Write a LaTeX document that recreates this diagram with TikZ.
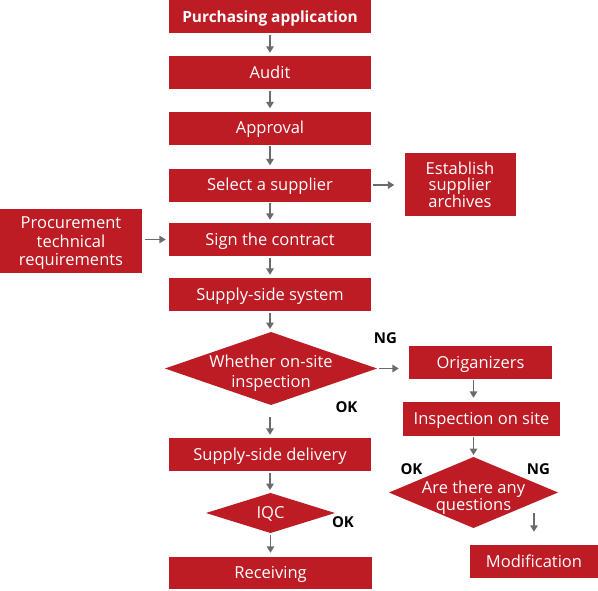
\documentclass[tikz,border=0pt]{standalone}
\usepackage{fontspec}
\setmainfont{Open Sans}
\usetikzlibrary{arrows.meta}
\definecolor{cred}{HTML}{BD1C24}
\definecolor{carrow}{HTML}{6B6B6B}
\begin{document}
\begin{tikzpicture}[x=1pt,y=-1pt,
  box/.style={fill=cred, text=white, inner sep=0pt, align=center,
    font=\fontsize{16.5}{18}\selectfont},
  one/.style={text height=11.5pt, text depth=0pt},
  dtext/.style={text=white, inner sep=0pt, align=center},
  arr/.style={draw=carrow, line width=1.6pt, -{Triangle[width=7.5pt,length=6.5pt]}},
  lbl/.style={font=\bfseries\fontsize{15}{15}\selectfont, text=black, inner sep=0pt}]
\useasboundingbox (0,0) rectangle (598,590);
% main column
\node[box, one, minimum width=202pt, minimum height=33pt, font=\bfseries\fontsize{15.4}{18}\selectfont] (pa) at (270,16.5) {Purchasing application};
\node[box, one, minimum width=202pt, minimum height=33pt] (audit) at (270,72.5) {Audit};
\node[box, one, minimum width=202pt, minimum height=33pt] (appr) at (270,128) {Approval};
\node[box, one, minimum width=202pt, minimum height=33pt] (sel) at (270,185) {Select a supplier};
\node[box, one, minimum width=202pt, minimum height=33pt] (sign) at (270,239.5) {Sign the contract};
\node[box, one, minimum width=202pt, minimum height=33pt] (sys) at (270,294.5) {Supply-side system};
% decision 1
\coordinate (d1w) at (165,368.5);
\coordinate (d1n) at (271,332);
\coordinate (d1e) at (377,368.5);
\coordinate (d1s) at (271,405);
\fill[cred] (d1w) -- (d1n) -- (d1e) -- (d1s) -- cycle;
\node[dtext, font=\fontsize{16.5}{20}\selectfont] (d1) at (271,373.5) {Whether on-site\\inspection};
\node[box, one, minimum width=202pt, minimum height=33pt] (dlv) at (270,454.5) {Supply-side delivery};
% IQC
\coordinate (iqw) at (206,513);
\coordinate (iqn) at (270.5,493);
\coordinate (iqe) at (335,513);
\coordinate (iqs) at (270.5,533);
\fill[cred] (iqw) -- (iqn) -- (iqe) -- (iqs) -- cycle;
\node[dtext, one, font=\fontsize{16.5}{18}\selectfont] (iqc) at (270.5,513) {IQC};
\node[box, one, minimum width=203pt, minimum height=32pt] (rec) at (270.5,573) {Receiving};
% side boxes
\node[box, minimum width=111pt, minimum height=63pt, font=\fontsize{16.5}{16.5}\selectfont] (est) at (460,184.5) {Establish\\supplier\\archives};
\node[box, minimum width=142pt, minimum height=64pt, font=\fontsize{16.5}{18.5}\selectfont] (proc) at (71,241) {};
\node[dtext, font=\fontsize{16.5}{18.5}\selectfont] (proct) at (71,243.5) {Procurement\\technical\\requirements};
\node[box, one, minimum width=143pt, minimum height=33pt] (org) at (480.5,362.5) {Origanizers};
\node[box, one, minimum width=157pt, minimum height=34pt] (ins) at (481.5,419) {Inspection on site};
% decision 2
\coordinate (d2w) at (389,492.5);
\coordinate (d2n) at (473.5,457);
\coordinate (d2e) at (558,492.5);
\coordinate (d2s) at (473.5,528);
\fill[cred] (d2w) -- (d2n) -- (d2e) -- (d2s) -- cycle;
\node[dtext, font=\fontsize{16.5}{17}\selectfont] (d2) at (473.5,498) {Are there any\\questions};
\node[box, one, minimum width=128pt, minimum height=33pt] (mod) at (534,561.5) {Modification};
% labels
\node[lbl] (ng1) at (385.5,338.5) {NG};
\node[lbl] (ok1) at (346.5,407) {OK};
\node[lbl] (ok2) at (343,522.5) {OK};
\node[lbl] (ok3) at (411.5,469) {OK};
\node[lbl] (ng2) at (538.5,469) {NG};
% arrows
\draw[arr, shorten <=1.5pt, shorten >=3pt] (pa) -- (audit);
\draw[arr, shorten <=1.5pt, shorten >=3pt] (audit) -- (appr);
\draw[arr, shorten <=1.5pt, shorten >=3pt] (appr) -- (sel);
\draw[arr, shorten <=1.5pt, shorten >=3pt] (sel) -- (sign);
\draw[arr, shorten <=1.5pt, shorten >=3pt] (sign) -- (sys);
\draw[arr, shorten <=1.5pt, shorten >=3pt] (sys.south) -- (sys.south |- d1n);
\draw[arr, shorten <=12pt, shorten >=3pt] (dlv.north |- d1s) -- (dlv.north);
\draw[arr, shorten <=1.5pt, shorten >=3pt] (dlv.south) -- (dlv.south |- iqn);
\draw[arr, shorten <=2pt, shorten >=4pt] (rec.north |- iqs) -- (rec.north);
\draw[arr, shorten <=2pt, shorten >=10pt] (sel.east) -- (est.west |- sel.east);
\draw[arr, shorten <=2.5pt, shorten >=3pt] (proc.east |- sign.west) -- (sign.west);
\draw[arr, shorten <=2pt, shorten >=10pt] (d1e) -- (org.west |- d1e);
\draw[arr, shorten <=0.5pt, shorten >=4pt] (d2n |- org.south) -- (d2n |- ins.north);
\draw[arr, shorten <=0.5pt, shorten >=2pt] (d2n |- ins.south) -- (d2n);
\coordinate (q1) at (534,513);
\draw[arr, shorten >=13pt] (q1) -- (q1 |- mod.north);
\end{tikzpicture}
\end{document}
